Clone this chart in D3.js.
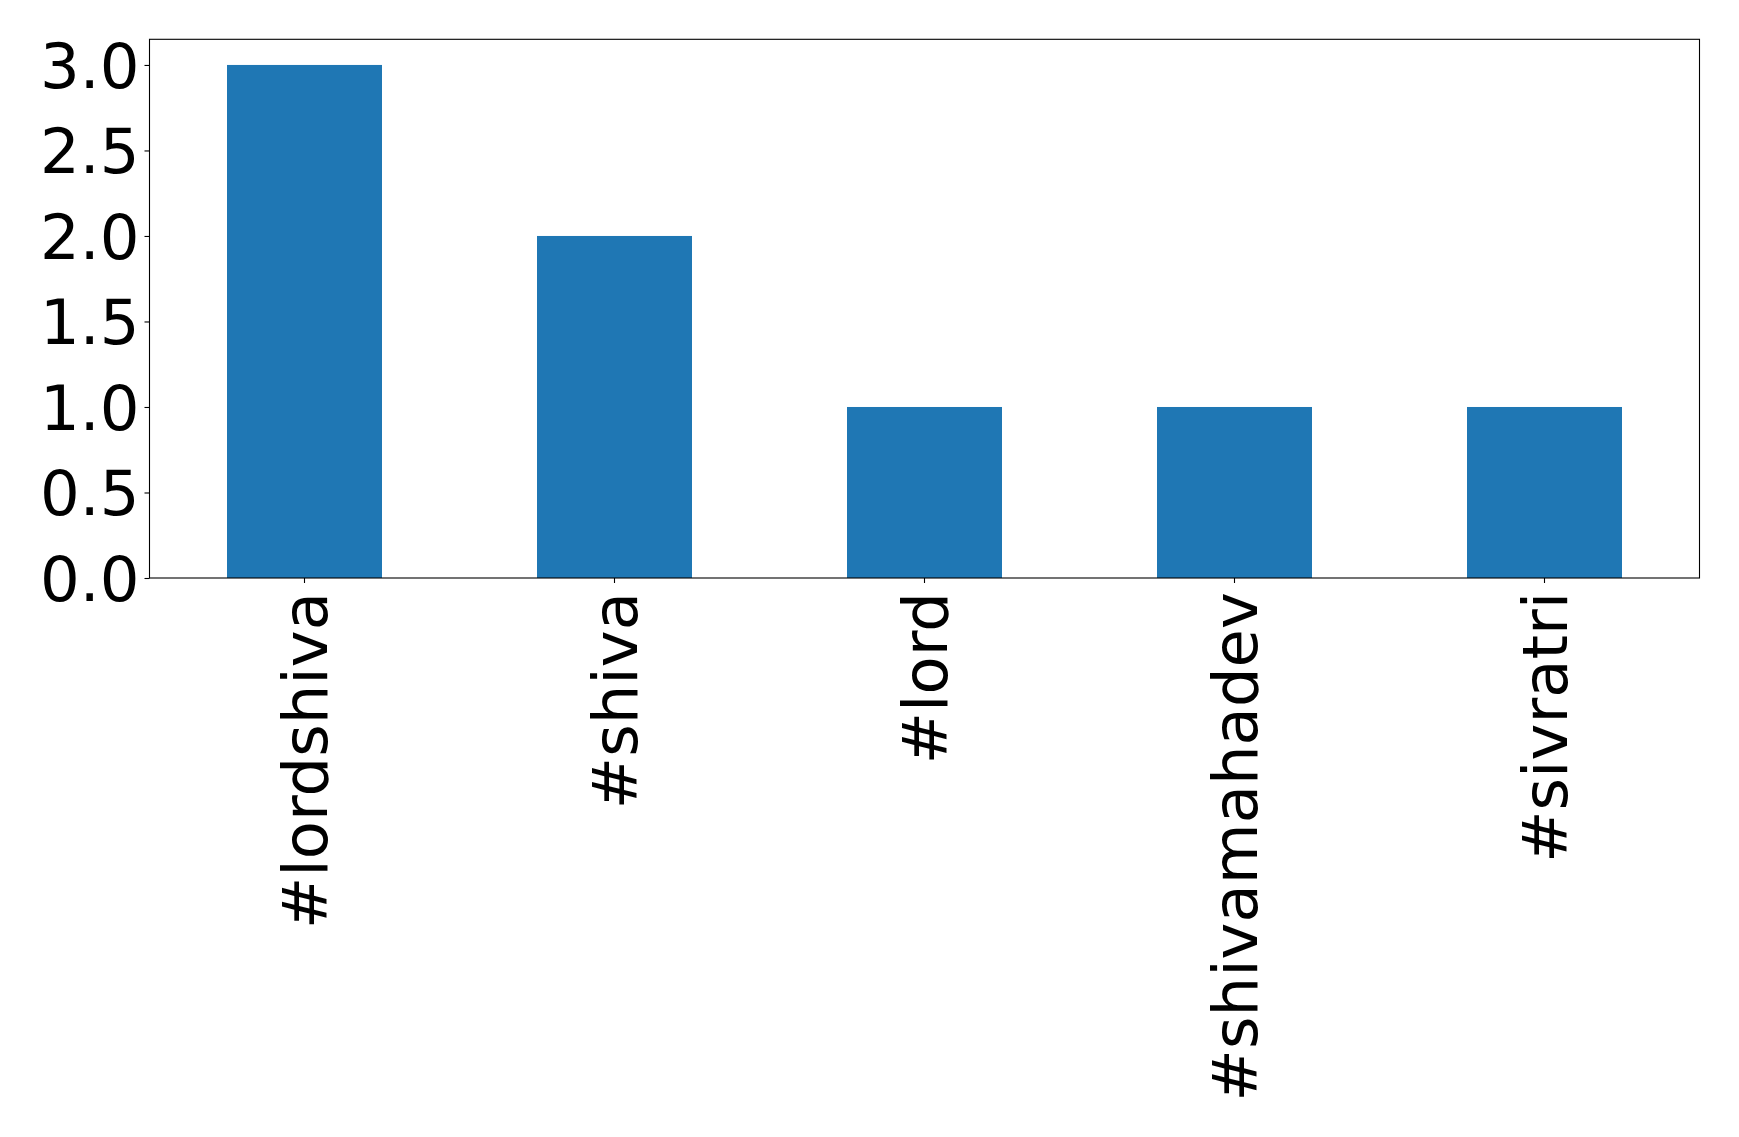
<!DOCTYPE html>
<html><head><meta charset="utf-8">
<script src="https://cdn.jsdelivr.net/npm/d3@7"></script>
<style>body{margin:0;background:#fff}svg{display:block}text{font-family:"DejaVu Sans",sans-serif}</style>
</head><body>
<script>
const categories = ["#lordshiva", "#shiva", "#lord", "#shivamahadev", "#sivratri"];
const values = [3, 2, 1, 1, 1];
const yTicks = [0, 0.5, 1.0, 1.5, 2.0, 2.5, 3.0];
const yTickLabels = ["0.0", "0.5", "1.0", "1.5", "2.0", "2.5", "3.0"];

const W = 1739, H = 1137;
const m = {left: 149.5, right: 1699.5, top: 39.3, bottom: 578};
const fs = 62.5;

const svg = d3.select("body").append("svg").attr("width", W).attr("height", H);

const x = d3.scaleBand().domain(categories).range([m.left, m.right]).paddingInner(0.5).paddingOuter(0.25);
const y = d3.scaleLinear().domain([0, 3.15]).range([m.bottom, m.top]);

svg.append("g").selectAll("rect").data(values).join("rect")
  .attr("x", (d, i) => x(categories[i]))
  .attr("width", x.bandwidth())
  .attr("y", d => y(d))
  .attr("height", d => y(0) - y(d))
  .attr("fill", "#1f77b4");

// frame
svg.append("rect").attr("x", m.left).attr("y", m.top)
  .attr("width", m.right - m.left).attr("height", m.bottom - m.top)
  .attr("fill", "none").attr("stroke", "#000").attr("stroke-width", 1.1);

const yAxis = d3.axisLeft(y).tickValues(yTicks).tickFormat((d, i) => yTickLabels[i]).tickSize(5).tickPadding(5);
const gy = svg.append("g").attr("transform", `translate(${m.left},0)`).call(yAxis);
gy.select(".domain").remove();
gy.selectAll("line").attr("stroke", "#000").attr("stroke-width", 1.1);
gy.selectAll("text").attr("font-size", fs).attr("fill", "#000").attr("dy", "0.36em")
  .style("font-family", '"DejaVu Sans", sans-serif');

const xAxis = d3.axisBottom(x).tickSize(5).tickPadding(0);
const gx = svg.append("g").attr("transform", `translate(0,${m.bottom})`).call(xAxis);
gx.select(".domain").remove();
gx.selectAll("line").attr("stroke", "#000").attr("stroke-width", 1.1);
gx.selectAll("text")
  .attr("font-size", fs).attr("fill", "#000")
  .attr("text-anchor", "end")
  .attr("transform", "rotate(-90)")
  .attr("x", -14).attr("y", 0).attr("dy", "0.36em")
  .style("font-family", '"DejaVu Sans", sans-serif');
</script>
</body></html>
